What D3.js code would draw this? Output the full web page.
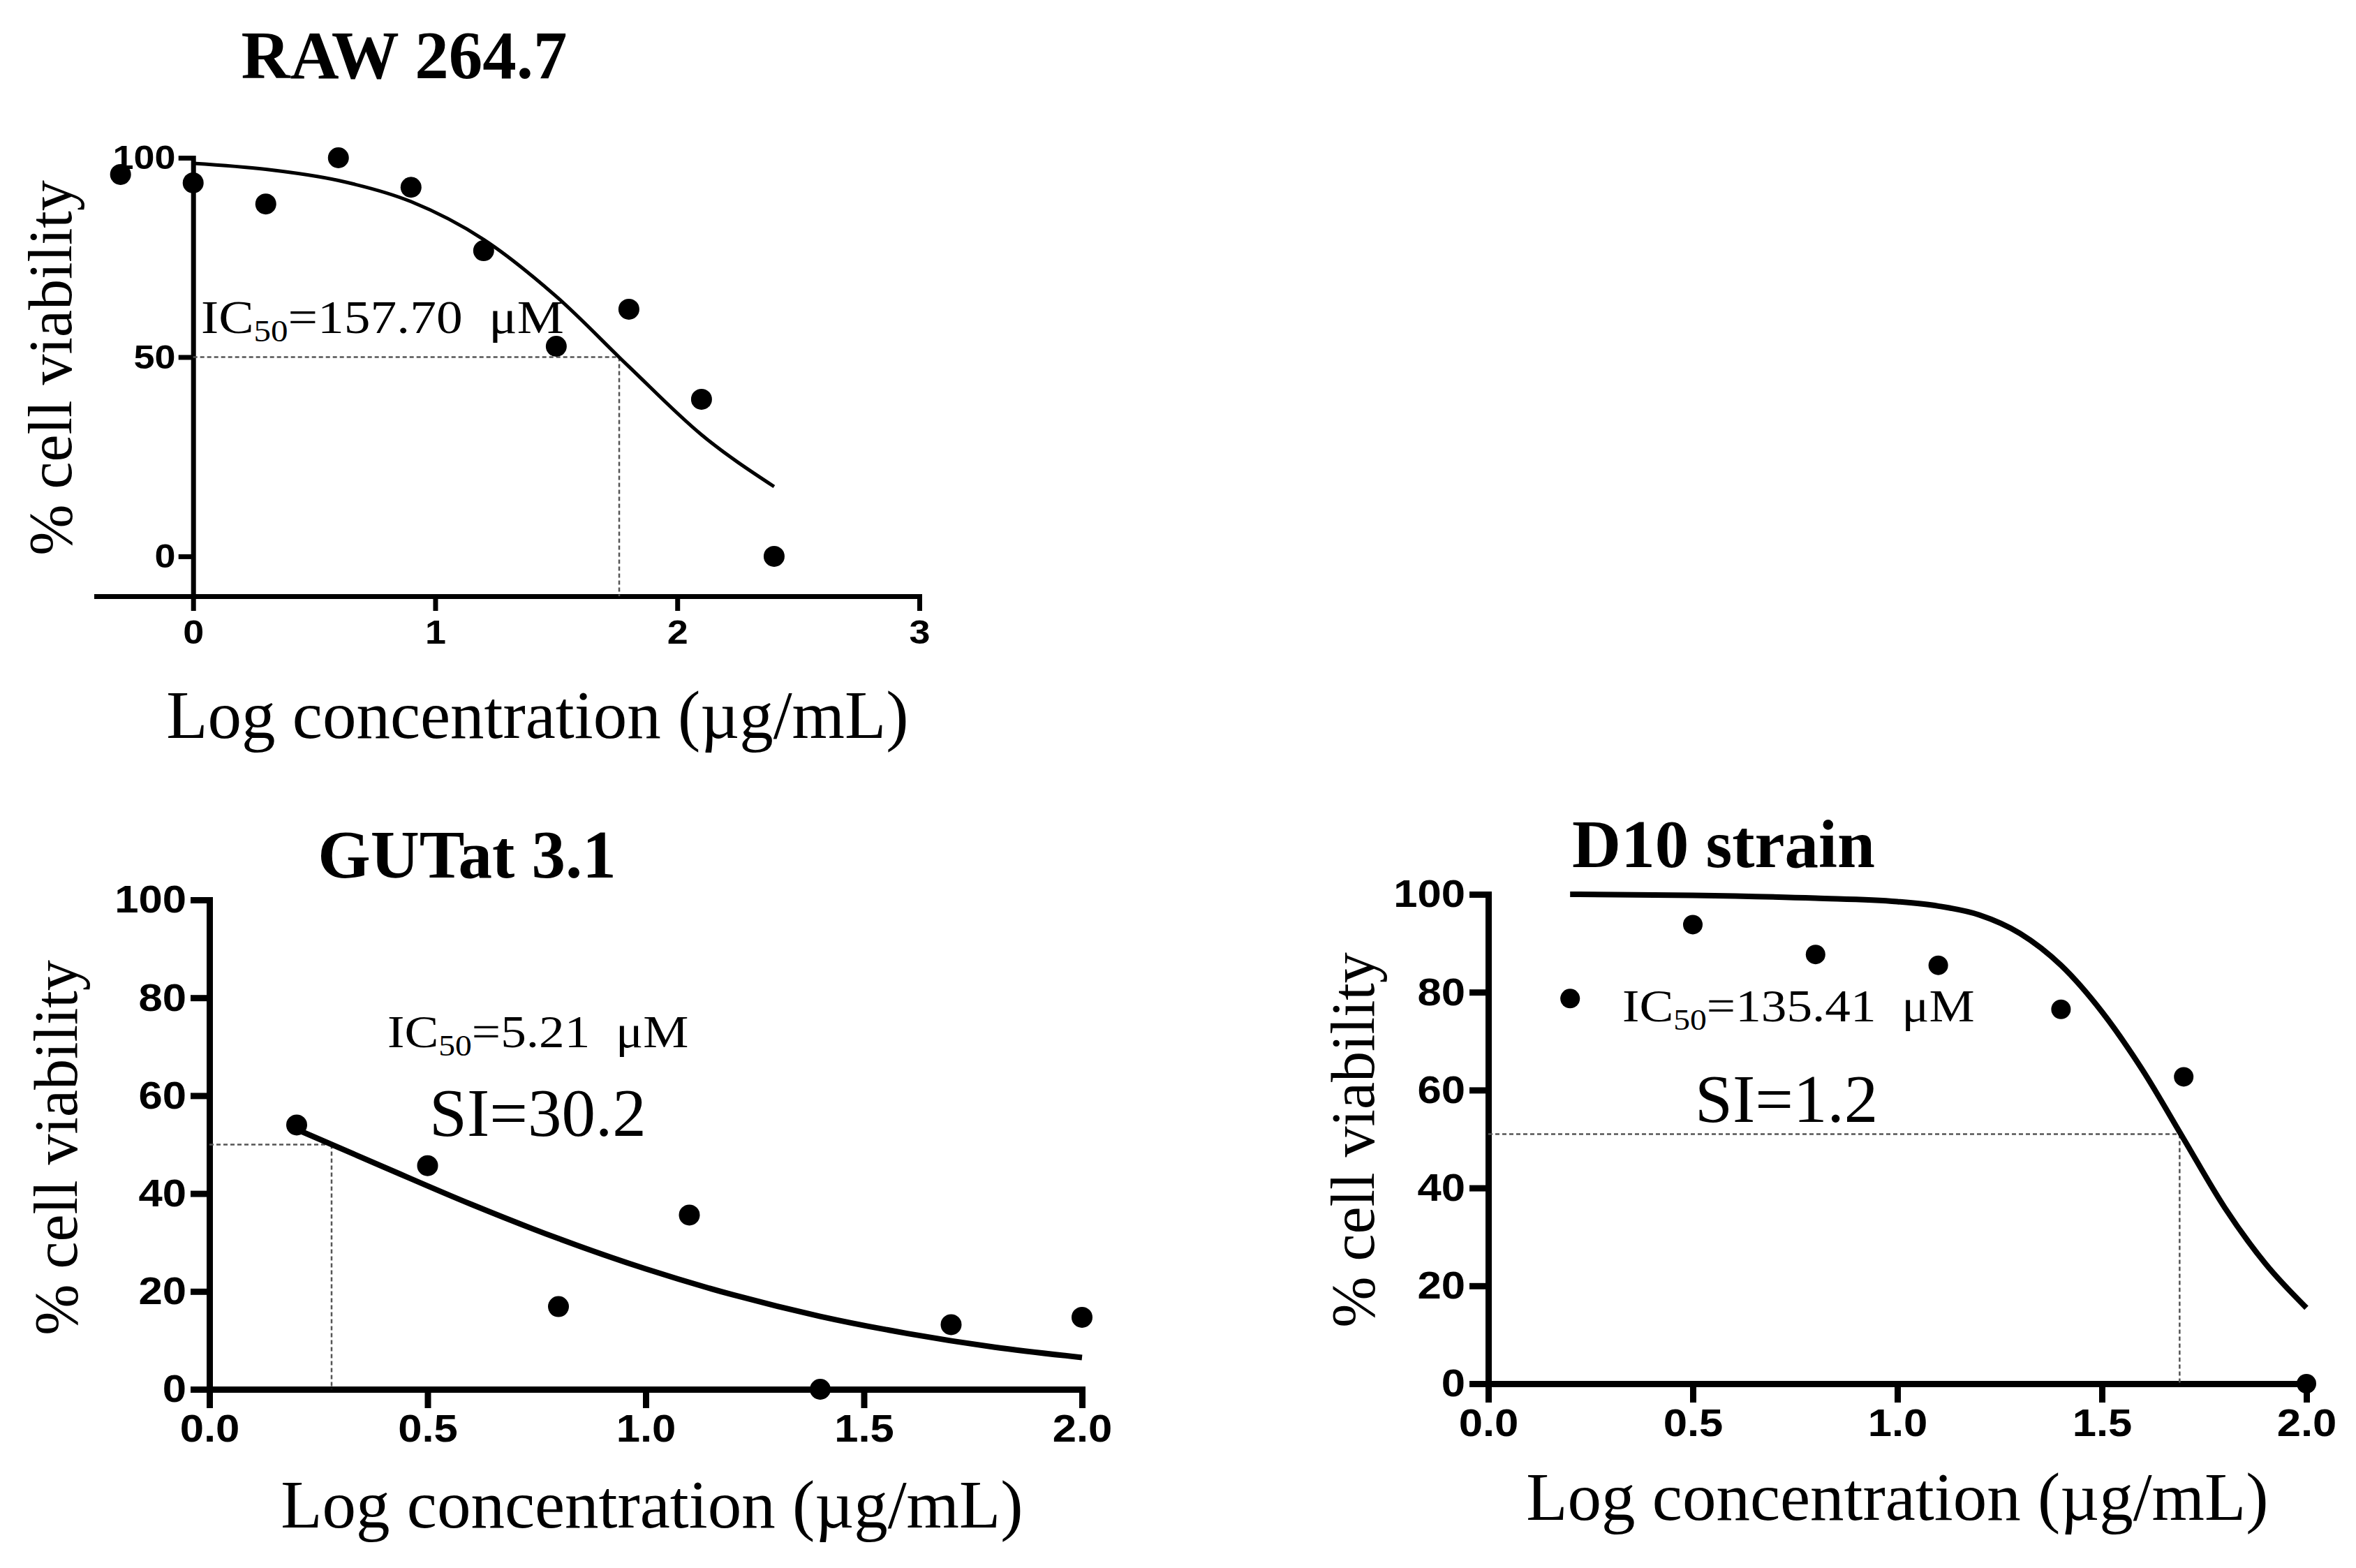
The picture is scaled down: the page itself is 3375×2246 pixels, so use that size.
<!DOCTYPE html>
<html>
<head>
<meta charset="utf-8">
<script src="https://cdn.jsdelivr.net/npm/d3@7"></script>
<style>
  body { margin: 0; background: #fff; }
  .tick text { font-family: "Liberation Sans", Arial, sans-serif; font-weight: bold; fill: #000; }
  .serif { font-family: "Liberation Serif", "Times New Roman", serif; fill: #000; white-space: pre; }
</style>
</head>
<body>
<div id="chart"></div>
<script>
// RAW 264.7 data (log conc vs % viability)
var rawX = [-0.3, 0, 0.3, 0.6, 0.9, 1.2, 1.5, 1.8, 2.1, 2.4];
var rawY = [95.8, 93.7, 88.4, 100, 92.6, 76.7, 52.7, 62, 39.4, 0];
var rawCurveX = [0, 0.3, 0.6, 0.9, 1.2, 1.5, 1.8, 2.1, 2.4];
var rawCurveY = [98.6, 97.1, 94.3, 89, 79.5, 65.2, 47.6, 30.5, 17.5];
var rawIC50 = 1.76;
var rawYTicks = [0, 50, 100];
var rawXTicks = [0, 1, 2, 3];

// GUTat 3.1 data
var gutX = [0.2, 0.5, 0.8, 1.1, 1.4, 1.7, 2.0];
var gutY = [54, 45.7, 16.9, 35.6, 0, 13.2, 14.7];
var gutCurveX = [0.2, 0.4, 0.6, 0.8, 1.0, 1.2, 1.4, 1.6, 1.8, 2.0];
var gutCurveY = [53.1, 45.4, 37.8, 30.8, 24.6, 19.3, 14.9, 11.4, 8.6, 6.5];
var gutIC50 = 0.28;

// D10 strain data
var d10X = [0.2, 0.5, 0.8, 1.1, 1.4, 1.7, 2.0];
var d10Y = [78.7, 93.8, 87.7, 85.5, 76.5, 62.7, 0];
var d10CurveX = [0.2, 0.5, 0.8, 1.0, 1.1, 1.2, 1.3, 1.4, 1.5, 1.6, 1.7, 1.8, 1.9, 2.0];
var d10CurveY = [100, 99.8, 99.2, 98.5, 97.6, 95.8, 92, 85.5, 76, 64, 50, 36, 24.5, 15.5];
var d10IC50 = 1.69;
var d10Half = 51;

var pctTicks = [0, 20, 40, 60, 80, 100];
var logTicks = [0, 0.5, 1.0, 1.5, 2.0];

var svgWidth = 3375;
var svgHeight = 2246;

var svg = d3.select("#chart")
  .append("svg")
  .attr("width", svgWidth)
  .attr("height", svgHeight);

function drawPanel(p) {
  var g = svg.append("g");

  var x = d3.scaleLinear().domain(p.xDomain).range(p.xRange);
  var y = d3.scaleLinear().domain(p.yDomain).range(p.yRange);

  // axes
  var xAxis = g.append("g")
    .attr("transform", `translate(0, ${y(p.yDomain[0])})`)
    .call(d3.axisBottom(x).tickValues(p.xTicks).tickFormat(p.xFormat)
      .tickSize(p.tick).tickSizeOuter(0).tickPadding(p.xPad));
  var yAxis = g.append("g")
    .attr("transform", `translate(${x(0)}, 0)`)
    .call(d3.axisLeft(y).tickValues(p.yTicks).tickFormat(d3.format("d"))
      .tickSize(p.tick).tickSizeOuter(0).tickPadding(p.yPad));

  [xAxis, yAxis].forEach(function(a) {
    a.select(".domain").attr("stroke", "#000").attr("stroke-width", p.axisW).attr("stroke-linecap", "square");
    a.selectAll(".tick line").attr("stroke", "#000").attr("stroke-width", p.axisW);
    // tick labels in the original are a bit wider than Arial bold
    a.selectAll(".tick text")
      .style("font-size", p.tickFont + "px")
      .attr("transform", "scale(1.1,1)");
  });

  // dotted IC50 guides
  g.append("line")
    .attr("x1", x(0)).attr("x2", x(p.ic50))
    .attr("y1", y(p.half)).attr("y2", y(p.half))
    .attr("stroke", "#555").attr("stroke-width", 2.5).attr("stroke-dasharray", "6,4");
  g.append("line")
    .attr("x1", x(p.ic50)).attr("x2", x(p.ic50))
    .attr("y1", y(p.half)).attr("y2", y(p.guideBottom))
    .attr("stroke", "#555").attr("stroke-width", 2.5).attr("stroke-dasharray", "6,4");

  // fitted curve
  var line = d3.line()
    .x(d => x(d[0]))
    .y(d => y(d[1]))
    .curve(d3.curveMonotoneX);
  g.append("path")
    .datum(d3.zip(p.curveX, p.curveY))
    .attr("d", line)
    .attr("fill", "none")
    .attr("stroke", "#000")
    .attr("stroke-width", p.curveW);

  // data points
  g.selectAll("circle")
    .data(d3.zip(p.xs, p.ys))
    .enter()
    .append("circle")
    .attr("cx", d => x(d[0]))
    .attr("cy", d => y(d[1]))
    .attr("r", p.r)
    .attr("fill", "#000");

  // title
  g.append("text")
    .attr("class", "serif")
    .attr("x", p.title[0]).attr("y", p.title[1])
    .attr("text-anchor", "middle")
    .style("font-size", "97px")
    .style("font-weight", "bold")
    .text(p.titleText);

  // axis labels
  g.append("text")
    .attr("class", "serif")
    .attr("transform", `translate(${p.yLab[0]}, ${p.yLab[1]}) rotate(-90)`)
    .attr("text-anchor", "middle")
    .attr("y", 20)
    .style("font-size", "88px")
    .text("% cell viability");
  g.append("text")
    .attr("class", "serif")
    .attr("x", p.xLab[0]).attr("y", p.xLab[1])
    .attr("text-anchor", "middle")
    .style("font-size", "97px")
    .text("Log concentration (\u00b5g/mL)");

  // IC50 annotation, stretched a little like the original
  var ic = g.append("text")
    .attr("class", "serif")
    .attr("transform", `translate(${p.icPos[0]}, ${p.icPos[1]}) scale(1.11,1)`)
    .style("font-size", p.icFont + "px");
  ic.append("tspan").text("IC");
  ic.append("tspan").attr("dy", p.icFont * 0.18).style("font-size", (p.icFont * 0.65) + "px").text("50");
  ic.append("tspan").attr("dy", -p.icFont * 0.18).text(p.icText);

  if (p.siText) {
    g.append("text")
      .attr("class", "serif")
      .attr("x", p.siPos[0]).attr("y", p.siPos[1])
      .style("font-size", "97px")
      .text(p.siText);
  }
}

drawPanel({
  xs: rawX, ys: rawY, curveX: rawCurveX, curveY: rawCurveY,
  ic50: rawIC50, half: 50, guideBottom: -10,
  xDomain: [-0.4, 3], xRange: [138, 1317],
  yDomain: [-10, 100], yRange: [854, 226],
  xTicks: rawXTicks, yTicks: rawYTicks, xFormat: d3.format("d"),
  tick: 21, xPad: 12, yPad: 2, tickFont: 49, axisW: 7, curveW: 5, r: 15,
  titleText: "RAW 264.7", title: [579, 112],
  yLab: [82, 527], xLab: [770, 1057],
  icPos: [288, 477], icFont: 68, icText: "=157.70  \u03bcM"
});

drawPanel({
  xs: gutX, ys: gutY, curveX: gutCurveX, curveY: gutCurveY,
  ic50: gutIC50, half: 50, guideBottom: 0,
  xDomain: [0, 2], xRange: [300, 1550],
  yDomain: [0, 100], yRange: [1990, 1289],
  xTicks: logTicks, yTicks: pctTicks, xFormat: d3.format(".1f"),
  tick: 27, xPad: 8, yPad: 3, tickFont: 56, axisW: 9, curveW: 8, r: 15,
  titleText: "GUTat 3.1", title: [669, 1257],
  yLab: [90, 1644], xLab: [934, 2188],
  icPos: [555, 1500], icFont: 66, icText: "=5.21  \u03bcM",
  siText: "SI=30.2", siPos: [615, 1627]
});

drawPanel({
  xs: d10X, ys: d10Y, curveX: d10CurveX, curveY: d10CurveY,
  ic50: d10IC50, half: d10Half, guideBottom: 0,
  xDomain: [0, 2], xRange: [2132, 3304],
  yDomain: [0, 100], yRange: [1982, 1281],
  xTicks: logTicks, yTicks: pctTicks, xFormat: d3.format(".1f"),
  tick: 27, xPad: 8, yPad: 3, tickFont: 56, axisW: 9, curveW: 8, r: 14,
  titleText: "D10 strain", title: [2469, 1242],
  yLab: [1948, 1633], xLab: [2718, 2177],
  icPos: [2324, 1463], icFont: 66, icText: "=135.41  \u03bcM",
  siText: "SI=1.2", siPos: [2428, 1607]
});
</script>
</body>
</html>
